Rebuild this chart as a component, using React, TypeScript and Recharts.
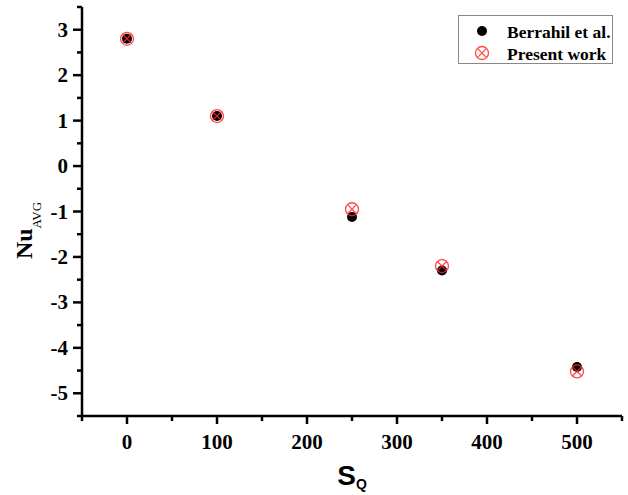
import React from "react";
import {
  ScatterChart,
  Scatter,
  XAxis,
  YAxis,
  Legend,
} from "recharts";

// S_Q values and average Nusselt numbers
const sqValues = [0, 100, 250, 350, 500];
const berrahilNu = [2.8, 1.1, -1.12, -2.3, -4.42];
const presentNu = [2.8, 1.1, -0.95, -2.2, -4.52];

const xTicks = [-50, 0, 50, 100, 150, 200, 250, 300, 350, 400, 450, 500, 550];
const xMajor = [0, 100, 200, 300, 400, 500];
const yTicks = [3.5, 3, 2.5, 2, 1.5, 1, 0.5, 0, -0.5, -1, -1.5, -2, -2.5, -3, -3.5, -4, -4.5, -5, -5.5];
const yMajor = [3, 2, 1, 0, -1, -2, -3, -4, -5];

const berrahilData = sqValues.map((x, i) => ({ x, y: berrahilNu[i] }));
const presentData = sqValues.map((x, i) => ({ x, y: presentNu[i] }));

const SERIF = "'Liberation Serif', 'Times New Roman', serif";
const SANS = "'Liberation Sans', Arial, sans-serif";
const RED = "#ff2a2a";
const AXIS_W = 2.5;

const BlackDot = (props: any) => {
  const { cx, cy } = props;
  if (cx == null || cy == null) return <g />;
  return <circle cx={cx} cy={cy} r={5} fill="#000" />;
};

const CrossCircle = (props: any) => {
  const { cx, cy } = props;
  if (cx == null || cy == null) return <g />;
  const r = 6.5;
  const d = r * 0.707;
  return (
    <g stroke={RED} strokeWidth={1.3} fill="none" opacity={0.85}>
      <circle cx={cx} cy={cy} r={r} />
      <line x1={cx - d} y1={cy - d} x2={cx + d} y2={cy + d} />
      <line x1={cx - d} y1={cy + d} x2={cx + d} y2={cy - d} />
    </g>
  );
};

const XTick = (props: any) => {
  const { x, y, payload } = props;
  const major = xMajor.includes(payload.value);
  return (
    <g>
      <line x1={x} y1={y} x2={x} y2={y + (major ? 8 : 5)} stroke="#000" strokeWidth={2.5} />
      {major && (
        <text x={x} y={y + 33} textAnchor="middle" fontFamily={SERIF} fontWeight="bold" fontSize={21} fill="#000">
          {payload.value}
        </text>
      )}
    </g>
  );
};

const YTick = (props: any) => {
  const { x, y, payload } = props;
  const major = yMajor.includes(payload.value);
  return (
    <g>
      <line x1={x} y1={y} x2={x - (major ? 9 : 5)} y2={y} stroke="#000" strokeWidth={2.5} />
      {major && (
        <text x={x - 14} y={y + 7} textAnchor="end" fontFamily={SERIF} fontWeight="bold" fontSize={21} fill="#000">
          {String(payload.value)}
        </text>
      )}
    </g>
  );
};

const YLabel = (props: any) => {
  const { viewBox } = props;
  const cx = 32;
  const cy = viewBox.y + viewBox.height / 2 + 19;
  return (
    <text
      x={cx}
      y={cy}
      transform={`rotate(-90, ${cx}, ${cy})`}
      textAnchor="middle"
      fontFamily={SERIF}
      fill="#000"
    >
      <tspan fontWeight="bold" fontSize={24}>Nu</tspan>
      <tspan fontSize={13} dy={9}>AVG</tspan>
    </text>
  );
};

const XLabel = (props: any) => {
  const { viewBox } = props;
  const cx = viewBox.x + viewBox.width / 2;
  const cy = viewBox.y + 69;
  return (
    <text x={cx} y={cy} textAnchor="middle" fontFamily={SANS} fontWeight="bold" fill="#000">
      <tspan fontSize={28}>S</tspan>
      <tspan fontSize={14} dy={4}>Q</tspan>
    </text>
  );
};

const LegendBox = () => (
  <svg width={156} height={50} style={{ display: "block" }}>
    <rect x={0.5} y={0.5} width={154} height={48} fill="#fff" stroke="#888" strokeWidth={1} />
    <circle cx={24} cy={16} r={5} fill="#000" />
    <CrossCircle cx={24} cy={38} />
    <text x={49} y={23} fontFamily={SERIF} fontWeight="bold" fontSize={17.5} fill="#000">
      Berrahil et al.
    </text>
    <text x={49} y={45} fontFamily={SERIF} fontWeight="bold" fontSize={17.5} fill="#000">
      Present work
    </text>
  </svg>
);

export default function App() {
  return (
    <div style={{ width: 628, height: 495, background: "#fff" }}>
      <style>{`body { margin: 0; }`}</style>
      <ScatterChart
        width={628}
        height={495}
        margin={{ top: 7, right: 6, bottom: 0, left: 0 }}
      >
        <XAxis
          xAxisId="main"
          dataKey="x"
          type="number"
          domain={[-50, 550]}
          ticks={xTicks}
          interval={0}
          height={79}
          tickSize={0}
          tickMargin={0}
          tickLine={false}
          tick={<XTick />}
          axisLine={{ stroke: "#000", strokeWidth: AXIS_W }}
          allowDataOverflow
          label={<XLabel />}
        />
        <XAxis
          xAxisId="top"
          orientation="top"
          type="number"
          domain={[-50, 550]}
          height={0}
          tick={false}
          tickLine={false}
          axisLine={{ stroke: "#000", strokeWidth: AXIS_W }}
        />
        <YAxis
          yAxisId="main"
          dataKey="y"
          type="number"
          domain={[-5.5, 3.5]}
          ticks={yTicks}
          interval={0}
          width={82}
          tickSize={0}
          tickMargin={0}
          tickLine={false}
          tick={<YTick />}
          axisLine={{ stroke: "#000", strokeWidth: AXIS_W }}
          allowDataOverflow
          label={<YLabel />}
        />
        <YAxis
          yAxisId="right"
          orientation="right"
          type="number"
          domain={[-5.5, 3.5]}
          width={0}
          tick={false}
          tickLine={false}
          axisLine={{ stroke: "#000", strokeWidth: AXIS_W }}
        />
        <Legend
          layout="horizontal"
          verticalAlign="middle"
          align="center"
          content={<LegendBox />}
          wrapperStyle={{ position: "absolute", left: 458, top: 15, width: 156, height: 50 }}
        />
        <Scatter
          name="Berrahil et al."
          data={berrahilData}
          xAxisId="main"
          yAxisId="main"
          shape={<BlackDot />}
          isAnimationActive={false}
        />
        <Scatter
          name="Present work"
          data={presentData}
          xAxisId="main"
          yAxisId="main"
          shape={<CrossCircle />}
          isAnimationActive={false}
        />
      </ScatterChart>
    </div>
  );
}
